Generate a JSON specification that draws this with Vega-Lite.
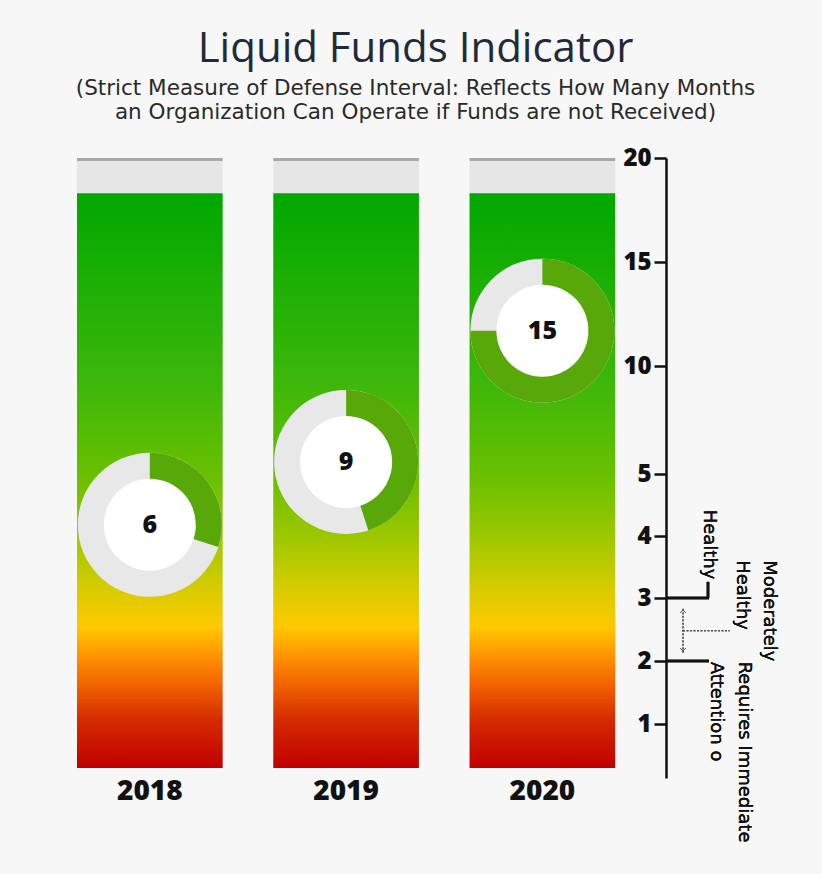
{
  "$schema": "https://vega.github.io/schema/vega-lite/v6.json",
  "width": 623,
  "height": 620,
  "autosize": "none",
  "padding": {"left": 72, "top": 158, "right": 127, "bottom": 96},
  "background": "#f7f7f7",
  "config": {"view": {"stroke": null}},
  "title": {
    "text": "Liquid Funds Indicator",
    "subtitle": ["(Strict Measure of Defense Interval: Reflects How Many Months", "an Organization Can Operate if Funds are not Received)"],
    "anchor": "middle",
    "font": "Open Sans",
    "fontSize": 42,
    "fontWeight": 400,
    "color": "#1f2b3a",
    "subtitleFont": "DejaVu Sans",
    "subtitleFontSize": 21.5,
    "subtitleFontWeight": 400,
    "subtitleColor": "#2a2a2a",
    "subtitleLineHeight": 24,
    "subtitlePadding": 7,
    "offset": 22,
    "dx": 32
  },
  "data": {
    "values": [
      {"year": "2018", "months": 6, "dial": 4.18},
      {"year": "2019", "months": 9, "dial": 5.56},
      {"year": "2020", "months": 15, "dial": 11.7}
    ]
  },
  "layer": [
    {
      "encoding": {
        "x": {
          "field": "year",
          "type": "nominal",
          "bandPosition": 0.5,
          "scale": {"paddingInner": 0.258, "paddingOuter": 0.216, "align": 0.059},
          "axis": {
            "title": null,
            "orient": "bottom",
            "labelAngle": 0,
            "labelFont": "Open Sans",
            "labelFontWeight": 800,
            "labelFontSize": 28,
            "labelColor": "#111111",
            "labelPadding": -1,
            "domain": false,
            "ticks": false
          }
        }
      },
      "layer": [
        {
          "mark": {"type": "bar", "color": "#e6e6e6", "width": {"band": 1}},
          "encoding": {
            "x": {"field": "year", "type": "nominal"},
            "y": {
              "datum": 20,
              "type": "quantitative",
              "scale": {
                "domain": [-0.16, 0, 1, 2, 3, 4, 5, 10, 15, 20],
                "range": [620, 610, 566, 503, 440, 378, 316, 208, 104, 0],
                "nice": false,
                "zero": false
              },
              "axis": {
                "title": null,
                "orient": "left",
                "offset": -594,
                "values": [1, 2, 3, 4, 5, 10, 15, 20],
                "grid": false,
                "labelFont": "Open Sans",
                "labelFontWeight": 800,
                "labelFontSize": 24,
                "labelColor": "#111111",
                "labelPadding": 3,
                "tickSize": 12,
                "tickWidth": 2.5,
                "tickColor": "#111111",
                "domainColor": "#111111",
                "domainWidth": 2.5
              }
            },
            "y2": {"datum": 0}
          }
        },
        {
          "mark": {"type": "bar", "color": "#a9a9a9", "width": {"band": 1}},
          "encoding": {
            "x": {"field": "year", "type": "nominal"},
            "y": {"datum": 20, "type": "quantitative"},
            "y2": {"datum": 19.85}
          }
        },
        {
          "mark": {
            "type": "bar",
            "width": {"band": 1},
            "color": {
              "gradient": "linear",
              "x1": 0, "y1": 1, "x2": 0, "y2": 0,
              "stops": [
                {"offset": 0, "color": "#c00000"},
                {"offset": 0.083, "color": "#d42a00"},
                {"offset": 0.136, "color": "#ee5a00"},
                {"offset": 0.188, "color": "#ff8c00"},
                {"offset": 0.245, "color": "#ffc800"},
                {"offset": 0.31, "color": "#d8cc00"},
                {"offset": 0.397, "color": "#a0c800"},
                {"offset": 0.5, "color": "#6cc000"},
                {"offset": 0.675, "color": "#3cb70a"},
                {"offset": 1, "color": "#00a800"}
              ]
            }
          },
          "encoding": {
            "x": {"field": "year", "type": "nominal"},
            "y": {"datum": 18.3, "type": "quantitative"},
            "y2": {"datum": 0}
          }
        },
        {
          "mark": {"type": "rule", "color": "#111111", "strokeWidth": 2.5},
          "encoding": {"y": {"datum": 0, "type": "quantitative"}}
        },
        {
          "mark": {"type": "arc", "color": "#e8e8e8", "radius": 72, "radius2": 0, "theta": 0, "theta2": 6.2832},
          "encoding": {
            "x": {"field": "year", "type": "nominal", "bandPosition": 0.5},
            "y": {"field": "dial", "type": "quantitative"}
          }
        },
        {
          "mark": {"type": "arc", "color": "#58a80a", "radius": 72, "radius2": 45},
          "encoding": {
            "x": {"field": "year", "type": "nominal", "bandPosition": 0.5},
            "y": {"field": "dial", "type": "quantitative"},
            "theta": {"field": "months", "type": "quantitative", "stack": null, "scale": {"domain": [0, 20], "range": [0, 6.2832]}},
            "theta2": {"datum": 0}
          }
        },
        {
          "mark": {"type": "arc", "color": "#ffffff", "radius": 46, "radius2": 0, "theta": 0, "theta2": 6.2832},
          "encoding": {
            "x": {"field": "year", "type": "nominal", "bandPosition": 0.5},
            "y": {"field": "dial", "type": "quantitative"}
          }
        },
        {
          "mark": {"type": "text", "font": "Open Sans", "fontWeight": 800, "fontSize": 25, "color": "#111111", "baseline": "middle", "align": "center"},
          "encoding": {
            "x": {"field": "year", "type": "nominal", "bandPosition": 0.5},
            "y": {"field": "dial", "type": "quantitative"},
            "text": {"field": "months", "type": "quantitative"}
          }
        }
      ]
    },
    {
      "encoding": {
        "x": {"type": "quantitative", "scale": {"domain": [0, 623], "nice": false, "zero": false}, "axis": null}
      },
      "layer": [
        {
          "mark": {"type": "rule", "color": "#111111", "strokeWidth": 2.5},
          "encoding": {
            "x": {"datum": 594, "type": "quantitative"},
            "x2": {"datum": 637},
            "y": {"datum": 3, "type": "quantitative"}
          }
        },
        {
          "mark": {"type": "rule", "color": "#111111", "strokeWidth": 2.5},
          "encoding": {
            "x": {"datum": 636, "type": "quantitative"},
            "y": {"datum": 3, "type": "quantitative"},
            "y2": {"datum": 3.26}
          }
        },
        {
          "mark": {"type": "rule", "color": "#111111", "strokeWidth": 2.5},
          "encoding": {
            "x": {"datum": 594, "type": "quantitative"},
            "x2": {"datum": 637},
            "y": {"datum": 2, "type": "quantitative"}
          }
        },
        {
          "mark": {"type": "rule", "color": "#555555", "strokeWidth": 1, "strokeDash": [2, 1.5]},
          "encoding": {
            "x": {"datum": 611, "type": "quantitative"},
            "y": {"datum": 2.13, "type": "quantitative"},
            "y2": {"datum": 2.84}
          }
        },
        {
          "mark": {"type": "rule", "color": "#555555", "strokeWidth": 1, "strokeDash": [2, 1.5]},
          "encoding": {
            "x": {"datum": 611, "type": "quantitative"},
            "x2": {"datum": 658},
            "y": {"datum": 2.48, "type": "quantitative"}
          }
        },
        {
          "mark": {"type": "point", "shape": "M-1,1L0,0L1,1", "filled": false, "color": "#555555", "strokeWidth": 1, "size": 25, "opacity": 1},
          "encoding": {
            "x": {"datum": 611, "type": "quantitative"},
            "y": {"datum": 2.81, "type": "quantitative"}
          }
        },
        {
          "mark": {"type": "point", "shape": "M-1,-1L0,0L1,-1", "filled": false, "color": "#555555", "strokeWidth": 1, "size": 25, "opacity": 1},
          "encoding": {
            "x": {"datum": 611, "type": "quantitative"},
            "y": {"datum": 2.16, "type": "quantitative"}
          }
        },
        {
          "mark": {"type": "text", "angle": 90, "align": "right", "baseline": "middle", "font": "DejaVu Sans", "fontSize": 18, "color": "#111111"},
          "encoding": {
            "x": {"datum": 637, "type": "quantitative"},
            "y": {"datum": 3.3, "type": "quantitative"},
            "text": {"value": "Healthy"}
          }
        },
        {
          "mark": {"type": "text", "angle": 90, "align": "left", "baseline": "middle", "font": "DejaVu Sans", "fontSize": 18, "color": "#111111"},
          "encoding": {
            "x": {"datum": 697, "type": "quantitative"},
            "y": {"datum": 3.61, "type": "quantitative"},
            "text": {"value": "Moderately"}
          }
        },
        {
          "mark": {"type": "text", "angle": 90, "align": "left", "baseline": "middle", "font": "DejaVu Sans", "fontSize": 18, "color": "#111111"},
          "encoding": {
            "x": {"datum": 670, "type": "quantitative"},
            "y": {"datum": 3.61, "type": "quantitative"},
            "text": {"value": "Healthy"}
          }
        },
        {
          "mark": {"type": "text", "angle": 90, "align": "left", "baseline": "middle", "font": "DejaVu Sans", "fontSize": 18, "color": "#111111"},
          "encoding": {
            "x": {"datum": 672, "type": "quantitative"},
            "y": {"datum": 1.99, "type": "quantitative"},
            "text": {"value": "Requires Immediate"}
          }
        },
        {
          "mark": {"type": "text", "angle": 90, "align": "left", "baseline": "middle", "font": "DejaVu Sans", "fontSize": 18, "color": "#111111"},
          "encoding": {
            "x": {"datum": 644, "type": "quantitative"},
            "y": {"datum": 1.99, "type": "quantitative"},
            "text": {"value": "Attention o"}
          }
        }
      ]
    }
  ],
  "resolve": {"scale": {"x": "independent"}}
}
